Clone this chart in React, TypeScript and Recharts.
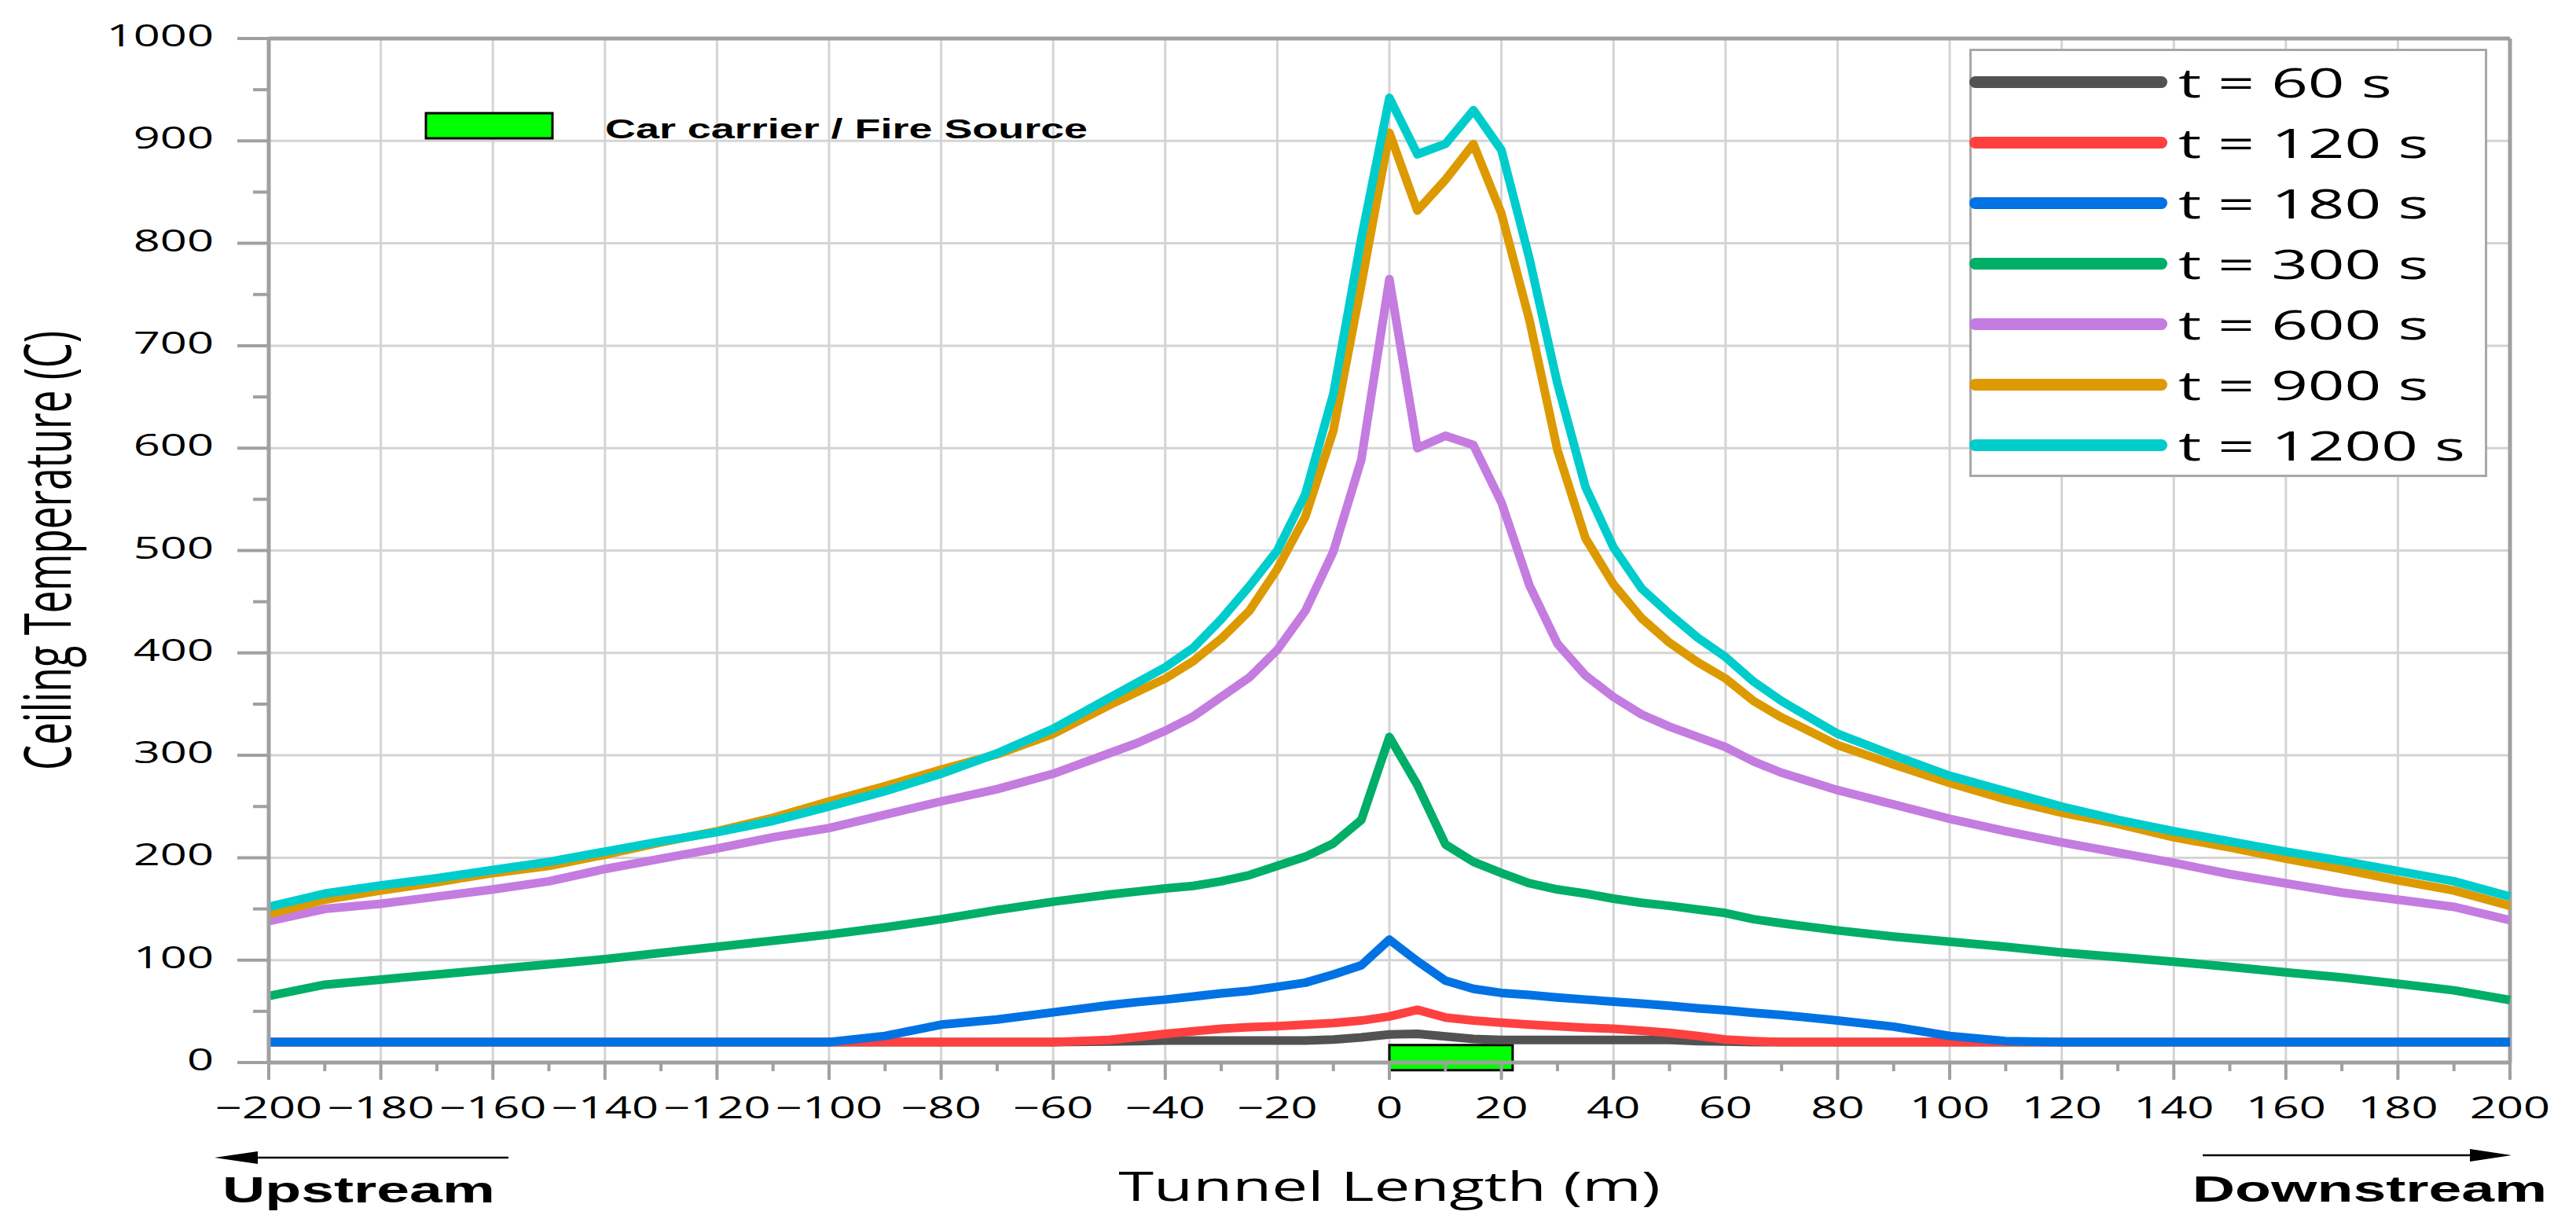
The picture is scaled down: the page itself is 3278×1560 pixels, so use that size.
import React from 'react';
import {
  LineChart, Line, XAxis, YAxis, CartesianGrid, ReferenceLine,
  ReferenceArea, Legend, Label
} from 'recharts';

// tunnel position (m), shared by every series
const X = [
  -200, -190, -180, -170, -160, -150, -140, -130, -120, -110, -100, -90, -80, -70, -60, -50,
  -45, -40, -35, -30, -25, -20, -15, -10, -5, 0, 5, 10, 15, 20, 25, 30, 35, 40, 45, 50, 55, 60,
  65,
  70, 80, 90, 100, 110, 120, 130, 140, 150, 160, 170, 180, 190, 200,
];

// ceiling temperature (C) at each time
const T60 = [
  20, 20, 20, 20, 20, 20, 20, 20, 20, 20, 20, 20, 20, 20, 20, 20.5,
  21, 21.5, 21.5, 21.5, 21.5, 21.5, 21.5, 22.5, 24.5, 27.5, 28, 25.5, 23, 22, 22, 22, 22, 22, 22, 22, 21, 20.5,
  20,
  20, 20, 20, 20, 20, 20, 20, 20, 20, 20, 20, 20, 20, 20,
];
const T120 = [
  20, 20, 20, 20, 20, 20, 20, 20, 20, 20, 20, 20, 20, 20, 20, 22,
  25, 28, 30.5, 33, 34.5, 35.5, 37, 38.5, 41, 45, 51.5, 44, 41, 39, 37, 35.5, 34, 33, 31, 29, 26, 22.5,
  21,
  20, 20, 20, 20, 20, 20, 20, 20, 20, 20, 20, 20, 20, 20,
];
const T180 = [
  20, 20, 20, 20, 20, 20, 20, 20, 20, 20, 20, 26, 37, 42, 49, 56,
  59, 61.5, 64.5, 67.5, 70, 74, 78, 86, 95, 120, 99, 80, 72, 68, 66, 63.5, 61.5, 59.5, 57.5, 55.5, 53, 51,
  48.5,
  46.5, 41, 35, 26, 21, 20, 20, 20, 20, 20, 20, 20, 20, 20,
];
const T300 = [
  65, 76, 81, 86, 91, 96, 101, 107, 113, 119, 125, 132, 140, 149, 157, 164,
  167, 170, 172.5, 177, 183, 192, 201, 214, 237, 318, 271, 213, 196, 185, 175, 169, 165, 160, 156, 153, 149.5, 146,
  140,
  136, 129, 123, 118, 113, 107.5, 103, 98.5, 93.5, 88, 83, 77, 70.5, 61,
];
const T600 = [
  138, 150, 155, 162, 169, 177, 189, 199, 209, 220, 229, 242, 255, 267, 282, 302,
  312, 324, 338, 357, 376, 403, 441, 499, 589, 765, 600, 612, 603, 547, 466, 409, 378, 357, 340, 328, 318, 308,
  294,
  283, 266, 252, 238, 226, 215, 205, 195, 184, 175, 166, 159, 152, 139,
];
const T900 = [
  145, 159, 168, 176, 185, 192, 203, 215, 226, 239, 255, 270, 286, 301, 321, 349,
  362, 375, 392, 414, 441, 482, 533, 617, 760, 908, 832, 862, 897, 829, 725, 598, 512, 467, 434, 410, 391, 375,
  353,
  337, 310, 291, 273, 257, 244, 233, 220, 210, 199, 189, 178, 168, 153,
];
const T1200 = [
  152, 165, 173, 180, 188, 196, 206, 216, 225, 236, 250, 265, 282, 302, 326, 356,
  371, 386, 405, 433, 465, 500, 555, 653, 805, 942, 887, 897, 930, 891, 785, 663, 562, 503, 463, 438, 415, 396,
  372,
  353, 321, 300, 280, 265, 250, 237, 226, 216, 206, 197, 187, 177, 162,
];

const KEYS = ['t60', 't120', 't180', 't300', 't600', 't900', 't1200'];
const NAMES = ['t = 60 s', 't = 120 s', 't = 180 s', 't = 300 s', 't = 600 s', 't = 900 s', 't = 1200 s'];
const VALUES = [T60, T120, T180, T300, T600, T900, T1200];
const COLORS = ['#525252', '#ff4040', '#0072e3', '#00ae68', '#c47ce0', '#dc9a00', '#00cccc'];

const X_TICKS = Array.from({ length: 41 }, (_, i) => -200 + i * 10);
const X_GRID = Array.from({ length: 21 }, (_, i) => -200 + i * 20);
const Y_TICKS = Array.from({ length: 21 }, (_, i) => i * 50);
const Y_GRID = Array.from({ length: 11 }, (_, i) => i * 100);

// the fire source sits on the axis, 0 to 22 m
const FIRE_X = [0, 22];
const FIRE_Y = [-7.5, 17];

const rows = X.map((x, i) => {
  const r: any = { x };
  KEYS.forEach((k, j) => { r[k] = VALUES[j][i]; });
  return r;
});

// the reference is stretched sideways, so the text is too
const SX = 1.57;
const AXIS = '#a0a0a0';
const FONT = "'Open Sans', sans-serif";
const BOLD = "'Liberation Sans', Arial, sans-serif";

const fmt = (v: number) => (v < 0 ? `\u2212${-v}` : `${v}`);

function XTick({ x, y, payload }: any) {
  const v = payload.value;
  const major = v % 20 === 0;
  return (
    <g>
      <line x1={x} x2={x} y1={y} y2={y + (major ? 22 : 11)} stroke={AXIS} strokeWidth={4} />
      {major && (
        <text transform={`translate(${x},${y + 71}) scale(${SX},1)`} textAnchor="middle"
          fontSize={38} fontFamily={FONT} fill="#000">{fmt(v)}</text>
      )}
    </g>
  );
}

function YTick({ x, y, payload }: any) {
  const v = payload.value;
  const major = v % 100 === 0;
  return (
    <g>
      <line x1={x - (major ? 40 : 20)} x2={x} y1={y} y2={y} stroke={AXIS} strokeWidth={4} />
      {major && (
        <text transform={`translate(${x - 70},${y + 10}) scale(${SX},1)`} textAnchor="end"
          fontSize={38} fontFamily={FONT} fill="#000">{v}</text>
      )}
    </g>
  );
}

function LegendBox({ payload }: any) {
  // keep the series order, not the order the legend hands over
  const items = [...(payload || [])].sort(
    (a: any, b: any) => NAMES.indexOf(a.value) - NAMES.indexOf(b.value)
  );
  return (
    <div style={{
      width: '100%', height: '100%', boxSizing: 'border-box', border: '3px solid #a8a8a8',
      background: '#fff', position: 'relative',
    }}>
      {items.map((p: any, i: number) => (
        <div key={i} style={{
          position: 'absolute', left: -3, top: 39 + 77 * i - 30, height: 60,
          display: 'flex', alignItems: 'center', whiteSpace: 'nowrap',
        }}>
          <div style={{ width: 252, height: 15, borderRadius: 8, background: p.color }} />
          <span style={{
            marginLeft: 14, fontFamily: FONT, fontSize: 52, color: '#000', display: 'inline-block',
            transform: `scaleX(${SX})`, transformOrigin: 'left center', lineHeight: '60px',
          }}>{p.value}</span>
        </div>
      ))}
    </div>
  );
}

export default function App() {
  return (
    <div style={{ position: 'absolute', left: 0, top: 0, width: 3278, height: 1560, background: '#fff' }}>
      <LineChart width={3278} height={1560} data={rows}
        margin={{ top: 49, right: 84, bottom: 0, left: 0 }}>
        <CartesianGrid verticalValues={X_GRID} horizontalValues={Y_GRID}
          stroke="#d4d4d4" strokeWidth={3} />
        <XAxis type="number" dataKey="x" domain={[-200, 200]} ticks={X_TICKS} interval={0}
          height={208} tickSize={0} tickMargin={0} tickLine={false} tick={XTick}
          axisLine={{ stroke: AXIS, strokeWidth: 5 }}>
          <Label content={(p: any) => {
            const vb = p.viewBox || {};
            return (
              <text transform={`translate(${vb.x + vb.width / 2},${vb.y + 176}) scale(${SX},1)`}
                textAnchor="middle" fontSize={52} fontFamily={FONT} fill="#000">Tunnel Length (m)</text>
            );
          }} />
        </XAxis>
        <YAxis type="number" domain={[0, 1000]} ticks={Y_TICKS} interval={0}
          width={342} tickSize={0} tickMargin={0} tickLine={false} tick={YTick}
          axisLine={{ stroke: AXIS, strokeWidth: 5 }}>
          <Label content={(p: any) => {
            const vb = p.viewBox || {};
            return (
              <text transform={`translate(${vb.x + 90},${vb.y + vb.height / 2}) scale(1.62,1) rotate(-90)`}
                textAnchor="middle" fontSize={51} fontFamily={FONT} fill="#000">Ceiling Temperature (C)</text>
            );
          }} />
        </YAxis>
        <ReferenceLine y={1000} stroke={AXIS} strokeWidth={5} />
        <ReferenceLine x={200} stroke={AXIS} strokeWidth={5} />
        {KEYS.map((k, i) => (
          <Line key={k} type="linear" dataKey={k} name={NAMES[i]} stroke={COLORS[i]}
            strokeWidth={11} strokeLinejoin="round" dot={false} activeDot={false}
            isAnimationActive={false} />
        ))}
        <ReferenceArea x1={FIRE_X[0]} x2={FIRE_X[1]} y1={FIRE_Y[0]} y2={FIRE_Y[1]}
          ifOverflow="visible" fill="#00ff00" fillOpacity={1} stroke="#000" strokeWidth={3} />
        <Legend layout="vertical" align="center" verticalAlign="middle" content={LegendBox}
          wrapperStyle={{ left: 2506, top: 62, width: 659, height: 545 }} />
      </LineChart>

      <svg width={3278} height={1560} style={{ position: 'absolute', left: 0, top: 0, pointerEvents: 'none' }}>
        <rect x={542} y={144} width={161} height={32} fill="#00ff00" stroke="#000" strokeWidth={3} />
        <text transform={`translate(770,176) scale(1.54,1)`} fontSize={35} fontWeight="bold"
          fontFamily={BOLD} fill="#000">Car carrier / Fire Source</text>

        <line x1={326} x2={647} y1={1473} y2={1473} stroke="#000" strokeWidth={2.5} />
        <polygon points="273,1473 328,1465 328,1481" fill="#000" />
        <text transform={`translate(283,1530) scale(1.6,1)`} fontSize={47} fontWeight="bold"
          fontFamily={BOLD} fill="#000">Upstream</text>

        <line x1={2803} x2={3145} y1={1470} y2={1470} stroke="#000" strokeWidth={2.5} />
        <polygon points="3196,1470 3143,1462 3143,1478" fill="#000" />
        <text transform={`translate(3241,1529) scale(1.6,1)`} textAnchor="end" fontSize={47}
          fontWeight="bold" fontFamily={BOLD} fill="#000">Downstream</text>
      </svg>
    </div>
  );
}
